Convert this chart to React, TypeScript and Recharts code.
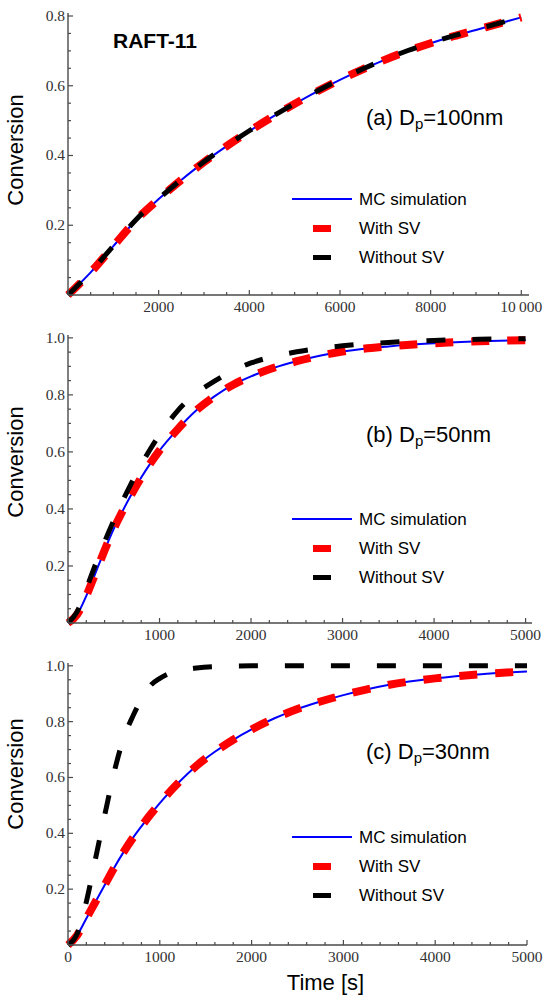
import React from 'react';
import { LineChart, Line, XAxis, YAxis } from 'recharts';

// ---------- Panel (a) Dp = 100 nm ----------
const timeA = [0, 500, 1000, 1500, 2000, 2500, 3000, 3500, 4000, 4500, 5000, 5500, 6000, 6500, 7000, 7500, 8000, 8500, 9000, 9500, 10000];
const mcA = [0, 0.065, 0.14, 0.215, 0.275, 0.33, 0.381, 0.427, 0.47, 0.51, 0.548, 0.584, 0.617, 0.647, 0.675, 0.7, 0.722, 0.742, 0.76, 0.778, 0.796];
const withSvA = [0, 0.065, 0.14, 0.215, 0.275, 0.33, 0.381, 0.427, 0.47, 0.51, 0.548, 0.584, 0.617, 0.647, 0.675, 0.7, 0.722, 0.742, 0.76, 0.778, 0.796];
const withoutSvA = [0, 0.066, 0.141, 0.216, 0.276, 0.331, 0.382, 0.428, 0.471, 0.511, 0.549, 0.585, 0.618, 0.648, 0.676, 0.701, 0.723, 0.743, 0.761, 0.779, 0.797];

const xTicksA = [0, 500, 1000, 1500, 2000, 2500, 3000, 3500, 4000, 4500, 5000, 5500, 6000, 6500, 7000, 7500, 8000, 8500, 9000, 9500, 10000];
const xMajorA = [0, 2000, 4000, 6000, 8000, 10000];
const xLabelsA = ['', '2000', '4000', '6000', '8000', '10\u2009000'];
const yTicksA = [0, 0.05, 0.1, 0.15, 0.2, 0.25, 0.3, 0.35, 0.4, 0.45, 0.5, 0.55, 0.6, 0.65, 0.7, 0.75, 0.8];
const yMajorA = [0, 0.2, 0.4, 0.6, 0.8];
const yLabelsA = ['', '0.2', '0.4', '0.6', '0.8'];

// ---------- Panel (b) Dp = 50 nm ----------
const timeB = [0, 100, 200, 300, 400, 500, 600, 700, 800, 900, 1000, 1200, 1400, 1600, 1800, 2000, 2250, 2500, 2750, 3000, 3500, 4000, 4500, 5000];
const mcB = [0, 0.03, 0.095, 0.175, 0.255, 0.33, 0.395, 0.455, 0.51, 0.56, 0.605, 0.68, 0.745, 0.795, 0.835, 0.865, 0.895, 0.918, 0.937, 0.952, 0.97, 0.981, 0.988, 0.992];
const withSvB = [0, 0.03, 0.095, 0.175, 0.255, 0.33, 0.395, 0.455, 0.51, 0.56, 0.605, 0.68, 0.745, 0.795, 0.835, 0.865, 0.895, 0.918, 0.937, 0.952, 0.97, 0.981, 0.988, 0.992];
const withoutSvB = [0, 0.04, 0.12, 0.205, 0.285, 0.36, 0.43, 0.495, 0.555, 0.61, 0.66, 0.745, 0.805, 0.848, 0.885, 0.912, 0.935, 0.951, 0.963, 0.972, 0.984, 0.991, 0.995, 0.997];

const xTicksBC = [0, 200, 400, 600, 800, 1000, 1200, 1400, 1600, 1800, 2000, 2200, 2400, 2600, 2800, 3000, 3200, 3400, 3600, 3800, 4000, 4200, 4400, 4600, 4800, 5000];
const xMajorBC = [0, 1000, 2000, 3000, 4000, 5000];
const xLabelsB = ['', '1000', '2000', '3000', '4000', '5000'];
const xLabelsC = ['0', '1000', '2000', '3000', '4000', '5000'];
const yTicksBC = [0, 0.05, 0.1, 0.15, 0.2, 0.25, 0.3, 0.35, 0.4, 0.45, 0.5, 0.55, 0.6, 0.65, 0.7, 0.75, 0.8, 0.85, 0.9, 0.95, 1.0];
const yMajorBC = [0, 0.2, 0.4, 0.6, 0.8, 1.0];
const yLabelsBC = ['', '0.2', '0.4', '0.6', '0.8', '1.0'];

// ---------- Panel (c) Dp = 30 nm ----------
const timeC = [0, 100, 200, 300, 400, 500, 600, 700, 800, 900, 1000, 1200, 1400, 1600, 1800, 2000, 2250, 2500, 2750, 3000, 3500, 4000, 4500, 5000];
const mcC = [0, 0.035, 0.095, 0.155, 0.215, 0.275, 0.33, 0.38, 0.425, 0.468, 0.508, 0.58, 0.642, 0.692, 0.735, 0.772, 0.812, 0.845, 0.872, 0.895, 0.932, 0.955, 0.97, 0.98];
const withSvC = [0, 0.035, 0.095, 0.155, 0.215, 0.275, 0.33, 0.38, 0.425, 0.468, 0.508, 0.58, 0.642, 0.692, 0.735, 0.772, 0.812, 0.845, 0.872, 0.895, 0.932, 0.955, 0.97, 0.98];
const timeCnoSv = [0, 100, 200, 300, 400, 500, 600, 700, 800, 900, 1000, 1100, 1200, 1400, 1600, 2000, 3000, 4000, 5000];
const withoutSvC = [0, 0.04, 0.155, 0.31, 0.465, 0.615, 0.735, 0.815, 0.88, 0.93, 0.955, 0.972, 0.982, 0.992, 0.997, 1.0, 1.0, 1.0, 1.0];

const seriesNames = ['MC simulation', 'With SV', 'Without SV'];

const toData = (ts: number[], vs: number[]) => ts.map((t, i) => ({ t, v: vs[i] }));

const AXIS = '#4a4a4a';
const TICK_FONT = '"Liberation Serif", "Times New Roman", serif';
const SANS = '"Liberation Sans", Arial, sans-serif';

const findIdx = (arr: number[], v: number) => arr.findIndex((m) => Math.abs(m - v) < 1e-6);

function makeXTick(majors: number[], labels: string[]) {
  return (props: any) => {
    const { x, y, payload } = props;
    const idx = findIdx(majors, payload.value);
    const major = idx >= 0;
    const len = major ? 5 : 3;
    return (
      <g>
        <line x1={x} y1={y} x2={x} y2={y - len} stroke={AXIS} strokeWidth={1.2} />
        {major && labels[idx] ? (
          <text x={x} y={y + 17} textAnchor="middle" fontFamily={TICK_FONT} fontSize={15.5} fill="#333">
            {labels[idx]}
          </text>
        ) : null}
      </g>
    );
  };
}

function makeYTick(majors: number[], labels: string[]) {
  return (props: any) => {
    const { x, y, payload } = props;
    const idx = findIdx(majors, payload.value);
    const major = idx >= 0;
    const len = major ? 5 : 3;
    return (
      <g>
        <line x1={x} y1={y} x2={x + len} y2={y} stroke={AXIS} strokeWidth={1.2} />
        {major && labels[idx] ? (
          <text x={x - 3} y={y + 5} textAnchor="end" fontFamily={TICK_FONT} fontSize={15.5} fill="#333">
            {labels[idx]}
          </text>
        ) : null}
      </g>
    );
  };
}

type PanelProps = {
  top: number;
  height: number;
  margin: { top: number; right: number; left: number; bottom: number };
  xDomain: [number, number];
  yDomain: [number, number];
  xTicks: number[];
  yTicks: number[];
  xMajor: number[];
  xLabels: string[];
  yMajor: number[];
  yLabels: string[];
  xAxisHeight: number;
  mc: { t: number; v: number }[];
  withSv: { t: number; v: number }[];
  withoutSv: { t: number; v: number }[];
};

function Panel(p: PanelProps) {
  return (
    <div style={{ position: 'absolute', left: 0, top: p.top }}>
      <LineChart width={548} height={p.height} margin={p.margin}>
        <XAxis
          dataKey="t"
          type="number"
          domain={p.xDomain}
          ticks={p.xTicks}
          interval={0}
          tickSize={0}
          tickMargin={0}
          tickLine={false}
          height={p.xAxisHeight}
          axisLine={{ stroke: AXIS, strokeWidth: 1.4 }}
          tick={makeXTick(p.xMajor, p.xLabels)}
          allowDecimals
        />
        <YAxis
          type="number"
          domain={p.yDomain}
          ticks={p.yTicks}
          interval={0}
          tickSize={0}
          tickMargin={0}
          tickLine={false}
          width={60}
          axisLine={{ stroke: AXIS, strokeWidth: 1.4 }}
          tick={makeYTick(p.yMajor, p.yLabels)}
        />
        <Line
          data={p.mc}
          dataKey="v"
          name={seriesNames[0]}
          type="monotone"
          stroke="#0000ff"
          strokeWidth={2}
          dot={false}
          isAnimationActive={false}
        />
        <Line
          data={p.withSv}
          dataKey="v"
          name={seriesNames[1]}
          type="monotone"
          stroke="#ff0000"
          strokeWidth={8}
          strokeDasharray="18 18"
          dot={false}
          isAnimationActive={false}
        />
        <Line
          data={p.withoutSv}
          dataKey="v"
          name={seriesNames[2]}
          type="monotone"
          stroke="#000000"
          strokeWidth={5}
          strokeDasharray="19 27"
          dot={false}
          isAnimationActive={false}
        />
      </LineChart>
    </div>
  );
}

function LegendBox({ rows }: { rows: number[] }) {
  const textStyle: React.CSSProperties = {
    position: 'absolute',
    left: 359,
    fontFamily: SANS,
    fontSize: 17,
    lineHeight: '17px',
    color: '#000',
    whiteSpace: 'nowrap',
  };
  return (
    <>
      <div style={{ position: 'absolute', left: 292, top: rows[0] - 1, width: 60, height: 2, background: '#0000ff' }} />
      <div style={{ ...textStyle, top: rows[0] - 8.3 }}>{seriesNames[0]}</div>
      <div style={{ position: 'absolute', left: 313, top: rows[1] - 3.5, width: 18, height: 7, background: '#ff0000' }} />
      <div style={{ ...textStyle, top: rows[1] - 8.3 }}>{seriesNames[1]}</div>
      <div style={{ position: 'absolute', left: 313, top: rows[2] - 2.5, width: 18, height: 5, background: '#000' }} />
      <div style={{ ...textStyle, top: rows[2] - 8.3 }}>{seriesNames[2]}</div>
    </>
  );
}

function Annotation({ letter, size, cy }: { letter: string; size: string; cy: number }) {
  return (
    <div
      style={{
        position: 'absolute',
        left: 366,
        top: cy - 10.7,
        fontFamily: SANS,
        fontSize: 22,
        lineHeight: '22px',
        whiteSpace: 'nowrap',
        color: '#000',
      }}
    >
      ({letter}) D<sub style={{ fontSize: 15, verticalAlign: '-4px', lineHeight: 0 }}>p</sub>={size}
    </div>
  );
}

function YTitle({ cy }: { cy: number }) {
  const w = 140;
  return (
    <div
      style={{
        position: 'absolute',
        left: 16.3 - w / 2,
        top: cy - 11,
        width: w,
        height: 22,
        lineHeight: '22px',
        textAlign: 'center',
        fontFamily: SANS,
        fontSize: 22,
        color: '#000',
        transform: 'rotate(-90deg)',
        transformOrigin: 'center center',
        whiteSpace: 'nowrap',
      }}
    >
      Conversion
    </div>
  );
}

export default function App() {
  return (
    <div style={{ position: 'absolute', left: 0, top: 0, width: 548, height: 1000, background: '#fff', overflow: 'hidden' }}>
      <Panel
        top={0}
        height={330}
        margin={{ top: 13, right: 19, left: 8, bottom: 5 }}
        xDomain={[0, 10170]}
        yDomain={[0, 0.8086]}
        xTicks={xTicksA}
        yTicks={yTicksA}
        xMajor={xMajorA}
        xLabels={xLabelsA}
        yMajor={yMajorA}
        yLabels={yLabelsA}
        xAxisHeight={30}
        mc={toData(timeA, mcA)}
        withSv={toData(timeA, withSvA)}
        withoutSv={toData(timeA, withoutSvA)}
      />
      <Panel
        top={320}
        height={330}
        margin={{ top: 15, right: 16, left: 8, bottom: 2 }}
        xDomain={[0, 5070]}
        yDomain={[0, 1.01]}
        xTicks={xTicksBC}
        yTicks={yTicksBC}
        xMajor={xMajorBC}
        xLabels={xLabelsB}
        yMajor={yMajorBC}
        yLabels={yLabelsBC}
        xAxisHeight={25}
        mc={toData(timeB, mcB)}
        withSv={toData(timeB, withSvB)}
        withoutSv={toData(timeB, withoutSvB)}
      />
      <Panel
        top={640}
        height={360}
        margin={{ top: 23, right: 21, left: 8, bottom: 25 }}
        xDomain={[0, 5000]}
        yDomain={[0, 1.01]}
        xTicks={xTicksBC}
        yTicks={yTicksBC}
        xMajor={xMajorBC}
        xLabels={xLabelsC}
        yMajor={yMajorBC}
        yLabels={yLabelsBC}
        xAxisHeight={30}
        mc={toData(timeC, mcC)}
        withSv={toData(timeC, withSvC)}
        withoutSv={toData(timeCnoSv, withoutSvC)}
      />

      <div
        style={{
          position: 'absolute',
          left: 113,
          top: 30.3,
          fontFamily: SANS,
          fontWeight: 'bold',
          fontSize: 21,
          lineHeight: '21px',
          whiteSpace: 'nowrap',
          color: '#000',
        }}
      >
        RAFT-11
      </div>

      <Annotation letter="a" size="100nm" cy={118} />
      <Annotation letter="b" size="50nm" cy={435} />
      <Annotation letter="c" size="30nm" cy={752} />

      <LegendBox rows={[199, 228.5, 257]} />
      <LegendBox rows={[519, 548.5, 577]} />
      <LegendBox rows={[837, 866.5, 895]} />

      <YTitle cy={150} />
      <YTitle cy={462} />
      <YTitle cy={774} />

      <div
        style={{
          position: 'absolute',
          left: 325.5 - 60,
          top: 972,
          width: 120,
          textAlign: 'center',
          fontFamily: SANS,
          fontSize: 22,
          lineHeight: '22px',
          whiteSpace: 'nowrap',
          color: '#000',
        }}
      >
        Time [s]
      </div>
    </div>
  );
}
